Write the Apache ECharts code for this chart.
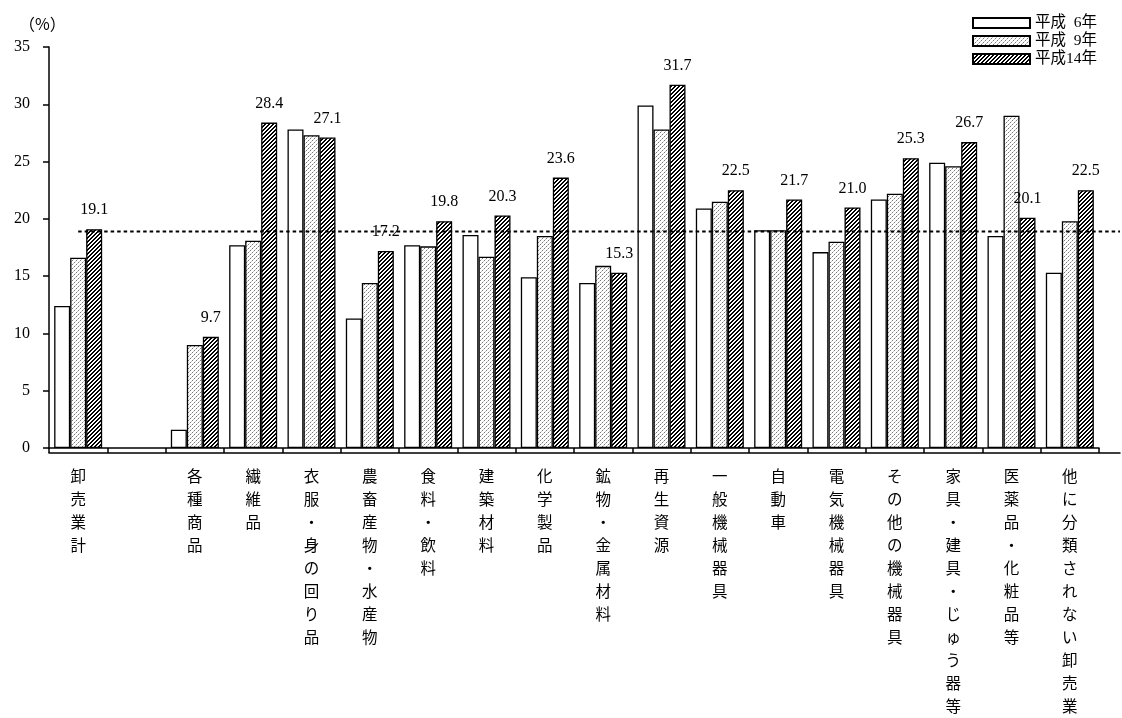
<!DOCTYPE html>
<html>
<head>
<meta charset="utf-8">
<script src="https://cdn.jsdelivr.net/npm/echarts@6/dist/echarts.min.js"></script>
<style>
  html, body { margin: 0; padding: 0; background: #ffffff; }
  #chart { width: 1122px; height: 718px; }
</style>
</head>
<body>
<div id="chart"></div>
<script>
// 業種別の比率（平成6年・9年・14年）
const categories = [
  '卸売業計', '', '各種商品', '繊維品', '衣服・身の回り品', '農畜産物・水産物',
  '食料・飲料', '建築材料', '化学製品', '鉱物・金属材料', '再生資源', '一般機械器具',
  '自動車', '電気機械器具', 'その他の機械器具', '家具・建具・じゅう器等',
  '医薬品・化粧品等', '他に分類されない卸売業'
];
const seriesNames = ['平成\u20026年', '平成\u20029年', '平成14年'];
const valuesH6  = [12.4, null, 1.6, 17.7, 27.8, 11.3, 17.7, 18.6, 14.9, 14.4, 29.9, 20.9, 19.0, 17.1, 21.7, 24.9, 18.5, 15.3];
const valuesH9  = [16.6, null, 9.0, 18.1, 27.3, 14.4, 17.6, 16.7, 18.5, 15.9, 27.8, 21.5, 19.0, 18.0, 22.2, 24.6, 29.0, 19.8];
const valuesH14 = [19.1, null, 9.7, 28.4, 27.1, 17.2, 19.8, 20.3, 23.6, 15.3, 31.7, 22.5, 21.7, 21.0, 25.3, 26.7, 20.1, 22.5];
const yMin = 0, yMax = 35, yStep = 5;
const referenceValue = 19.1;   // 卸売業計（平成14年）

// layout
const W = 1122;
const GRID_LEFT = 49, GRID_RIGHT = 23, GRID_RIGHT_EXT = 2, GRID_TOP = 47, GRID_BOTTOM = 265;
const plotW = W - GRID_LEFT - GRID_RIGHT;
const plotWExt = W - GRID_LEFT - GRID_RIGHT_EXT;
// extended overlay axis, measured in category units
const extMax = categories.length * plotWExt / plotW;

const SERIF = '"Liberation Serif", "Times New Roman", "Noto Sans CJK JP", serif';
const GOTHIC = '"Noto Sans CJK JP", sans-serif';

// fill patterns drawn pixel by pixel
function makePattern(size, shade) {
  const c = document.createElement('canvas');
  c.width = c.height = size;
  const ctx = c.getContext('2d');
  const img = ctx.createImageData(size, size);
  for (let y = 0; y < size; y++) {
    for (let x = 0; x < size; x++) {
      const v = shade(x, y);
      const i = (y * size + x) * 4;
      img.data[i] = img.data[i + 1] = img.data[i + 2] = v;
      img.data[i + 3] = 255;
    }
  }
  ctx.putImageData(img, 0, 0);
  return { image: c, repeat: 'repeat' };
}
const dotFill = makePattern(4, (x, y) => ((x === 0 && y === 0) || (x === 2 && y === 2)) ? 120 : ((x === 1 && y === 3) || (x === 3 && y === 1) ? 200 : 255));
const hatchFill = makePattern(4, (x, y) => ((x + y) % 4 === 0 || (x + y) % 4 === 1) ? 0 : 255);

const barBase = {
  type: 'bar',
  xAxisIndex: 0,
  yAxisIndex: 0,
  barWidth: 16,
  barGap: '0%',
  z: 2
};

const chart = echarts.init(document.getElementById('chart'), null, { renderer: 'canvas' });
chart.setOption({
  animation: false,
  backgroundColor: '#ffffff',
  title: {
    text: '（%）',
    left: 14,
    top: 11,
    textStyle: { fontFamily: GOTHIC, fontSize: 16, fontWeight: 'normal', color: '#000' }
  },
  legend: {
    data: seriesNames,
    orient: 'vertical',
    right: 20,
    top: 10,
    icon: 'rect',
    itemWidth: 57,
    itemHeight: 10,
    itemGap: 2,
    textStyle: { fontFamily: SERIF, fontSize: 15.5, lineHeight: 16, color: '#000' }
  },
  grid: [
    { left: GRID_LEFT, right: GRID_RIGHT, top: GRID_TOP, bottom: GRID_BOTTOM },
    { left: GRID_LEFT, right: GRID_RIGHT_EXT, top: GRID_TOP, bottom: GRID_BOTTOM }
  ],
  xAxis: [
    {
      type: 'category',
      gridIndex: 0,
      data: categories,
      axisLine: { lineStyle: { color: '#000', width: 1.5 } },
      axisTick: { show: true, interval: 0, length: 5, lineStyle: { color: '#000', width: 1.5 } },
      axisLabel: {
        interval: 0,
        margin: 17,
        color: '#000',
        fontFamily: GOTHIC,
        fontSize: 15.5,
        lineHeight: 23,
        verticalAlign: 'top',
        formatter: v => v.split('').join('\n')
      }
    },
    {
      type: 'value',
      gridIndex: 1,
      min: 0,
      max: extMax,
      axisLine: { show: true, onZero: false, lineStyle: { color: '#000', width: 1.5 } },
      axisTick: { show: false },
      axisLabel: { show: false },
      splitLine: { show: false }
    }
  ],
  yAxis: [
    {
      type: 'value',
      gridIndex: 0,
      min: yMin,
      max: yMax,
      interval: yStep,
      axisLine: { show: true, lineStyle: { color: '#000', width: 1.5 } },
      axisTick: { show: true, length: 6, lineStyle: { color: '#000', width: 1.5 } },
      axisLabel: { margin: 19, color: '#000', fontFamily: SERIF, fontSize: 16 },
      splitLine: { show: false }
    },
    {
      type: 'value',
      gridIndex: 1,
      min: yMin,
      max: yMax,
      show: false,
      splitLine: { show: false }
    }
  ],
  series: [
    Object.assign({}, barBase, {
      name: seriesNames[0],
      data: valuesH6,
      itemStyle: { color: '#ffffff', borderColor: '#000', borderWidth: 1.3 }
    }),
    Object.assign({}, barBase, {
      name: seriesNames[1],
      data: valuesH9,
      itemStyle: { color: dotFill, borderColor: '#000', borderWidth: 1.3 }
    }),
    Object.assign({}, barBase, {
      name: seriesNames[2],
      data: valuesH14,
      itemStyle: { color: hatchFill, borderColor: '#000', borderWidth: 1.3 },
      label: {
        show: true,
        position: 'top',
        distance: 11,
        color: '#000',
        fontFamily: SERIF,
        fontSize: 16,
        formatter: p => p.value.toFixed(1)
      }
    }),
    {
      type: 'line',
      name: '基準',
      xAxisIndex: 1,
      yAxisIndex: 1,
      z: 5,
      symbol: 'none',
      silent: true,
      data: [[0.5, referenceValue], [extMax, referenceValue]],
      lineStyle: { color: '#000', width: 2, type: [3.5, 3] }
    }
  ]
});
</script>
</body>
</html>
